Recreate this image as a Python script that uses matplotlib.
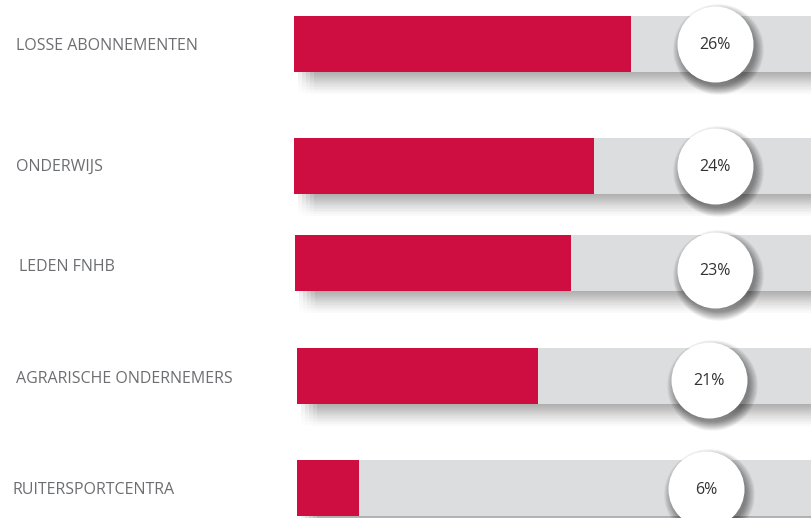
import matplotlib
matplotlib.use("Agg")
import matplotlib.pyplot as plt
from matplotlib.patches import Rectangle
import numpy as np

# ---- data ----
categories = ["LOSSE ABONNEMENTEN", "ONDERWIJS", "LEDEN FNHB",
              "AGRARISCHE ONDERNEMERS", "RUITERSPORTCENTRA"]
percentages = [26, 24, 23, 21, 6]
# drawn fill length of each red bar (track units, track = 0..40)
bar_fill = [26.1, 23.2, 21.4, 18.85, 5.0]
labels = [f"{p}%" for p in percentages]

# ---- layout (pixel rows, figure 811x518) ----
row_y = [44, 166, 263, 376, 488]
bar_h = 56
bar_start = [0.0, 0.0, 0.08, 0.23, 0.23]
circle_x = [32.55, 32.55, 32.6, 32.1, 31.9]
circle_y = [44, 166, 270, 380, 489]
label_x = [16, 16, 19, 16, 12]
label_y = [46, 167, 267, 379, 490]

RED = "#CE0E40"
GREY = "#DCDDDF"
TXT = "#6d6e71"

W, H = 811, 518
fig = plt.figure(figsize=(W / 100, H / 100), dpi=100)
fig.patch.set_facecolor("white")

x0 = 294
ax = fig.add_axes([x0 / W, 0, 1 - x0 / W, 1])
ax.set_xlim(0, 40)
ax.set_ylim(H, 0)
ax.axis("off")
upx = 40 / (W - x0)  # data units per pixel horizontally

for i in range(len(categories)):
    yc = row_y[i]
    top = yc - bar_h / 2
    # bar shadow below (soft gradient strips)
    n = 24
    for k in range(n):
        a = 0.36 * (1 - k / n) ** 1.5
        for lx in [4, 8, 12, 16, 20]:
            ax.add_patch(Rectangle((bar_start[i] + lx * upx, top + bar_h + k),
                                   40, 1.0, facecolor="#000000", alpha=a / 5,
                                   edgecolor="none", zorder=1))
    ax.add_patch(Rectangle((bar_start[i], top), 40, bar_h, facecolor=GREY,
                           edgecolor="none", zorder=2))
    ax.barh(yc, bar_fill[i] - bar_start[i], left=bar_start[i], height=bar_h,
            color=RED, zorder=3)

# circles with soft shadows (scatter markers, size in points^2)
r_px = 38
for i in range(len(categories)):
    for k in range(24, 0, -1):
        d = (2 * r_px - 4 + k * 0.8) * 0.72
        ax.scatter([circle_x[i] + 3 * upx], [circle_y[i] + 5],
                   s=d ** 2, color="#000000", alpha=0.018, linewidths=0, zorder=4)
    ax.scatter([circle_x[i]], [circle_y[i]], s=(2 * r_px * 0.72) ** 2,
               color="white", linewidths=0, zorder=5)
    ax.text(circle_x[i], circle_y[i] + 1, labels[i], ha="center", va="center",
            fontsize=11.5, family="Open Sans", color="#333333", zorder=6)

# category labels
for i, c in enumerate(categories):
    fig.text(label_x[i] / W, 1 - label_y[i] / H, c, ha="left", va="center",
             fontsize=11.5, family="Open Sans", color=TXT)

fig.savefig("out.png", dpi=100, facecolor="white")
